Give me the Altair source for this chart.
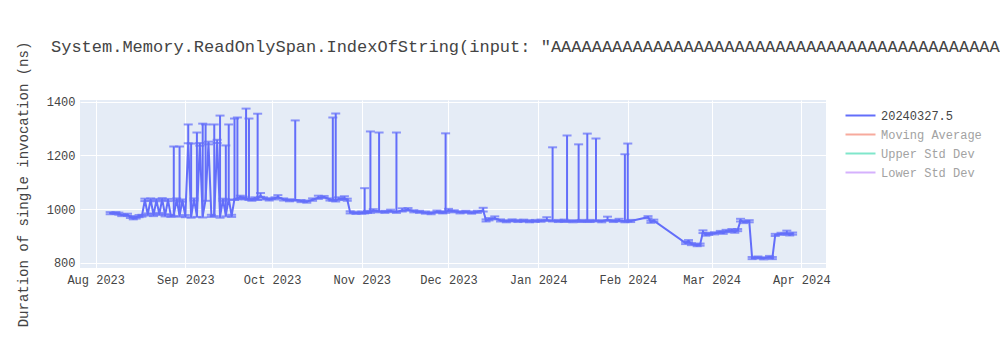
import altair as alt
import pandas as pd

# ---- data ----
dates = [
    "2023-08-06", "2023-08-08", "2023-08-09", "2023-08-10", "2023-08-12", "2023-08-13", "2023-08-14",
    "2023-08-15", "2023-08-16", "2023-08-17", "2023-08-18", "2023-08-19", "2023-08-20", "2023-08-21",
    "2023-08-22", "2023-08-23", "2023-08-24", "2023-08-25", "2023-08-26", "2023-08-27", "2023-08-28",
    "2023-08-29", "2023-08-30", "2023-08-31", "2023-09-01", "2023-09-02", "2023-09-03", "2023-09-04",
    "2023-09-05", "2023-09-06", "2023-09-07", "2023-09-08", "2023-09-09", "2023-09-10", "2023-09-11",
    "2023-09-12", "2023-09-13", "2023-09-14", "2023-09-15", "2023-09-16", "2023-09-17", "2023-09-18",
    "2023-09-19", "2023-09-20", "2023-09-21", "2023-09-22", "2023-09-23", "2023-09-24", "2023-09-25",
    "2023-09-26", "2023-09-27", "2023-09-28", "2023-09-30", "2023-10-02", "2023-10-03", "2023-10-05",
    "2023-10-07", "2023-10-09", "2023-10-11", "2023-10-13", "2023-10-15", "2023-10-17", "2023-10-19",
    "2023-10-21", "2023-10-22", "2023-10-23", "2023-10-24", "2023-10-26", "2023-10-27", "2023-10-28",
    "2023-10-30", "2023-11-01", "2023-11-02", "2023-11-03", "2023-11-04", "2023-11-05", "2023-11-07",
    "2023-11-09", "2023-11-11", "2023-11-13", "2023-11-15", "2023-11-17", "2023-11-19", "2023-11-21",
    "2023-11-23", "2023-11-25", "2023-11-27", "2023-11-29", "2023-11-30", "2023-12-01", "2023-12-03",
    "2023-12-05", "2023-12-07", "2023-12-09", "2023-12-11", "2023-12-13", "2023-12-14", "2023-12-15",
    "2023-12-17", "2023-12-19", "2023-12-21", "2023-12-23", "2023-12-25", "2023-12-27", "2023-12-29",
    "2023-12-31", "2024-01-02", "2024-01-04", "2024-01-06", "2024-01-08", "2024-01-10", "2024-01-11",
    "2024-01-13", "2024-01-15", "2024-01-16", "2024-01-18", "2024-01-19", "2024-01-21", "2024-01-23",
    "2024-01-25", "2024-01-27", "2024-01-29", "2024-01-31", "2024-02-01", "2024-02-02", "2024-02-08",
    "2024-02-09", "2024-02-10", "2024-02-21", "2024-02-22", "2024-02-23", "2024-02-25", "2024-02-26",
    "2024-02-27", "2024-02-28", "2024-02-29", "2024-03-02", "2024-03-04", "2024-03-05", "2024-03-06",
    "2024-03-08", "2024-03-09", "2024-03-10", "2024-03-11", "2024-03-12", "2024-03-14", "2024-03-15",
    "2024-03-17", "2024-03-19", "2024-03-21", "2024-03-22", "2024-03-23", "2024-03-25", "2024-03-27",
    "2024-03-28", "2024-03-29",
]
means = [
    985, 986, 983, 978, 979, 971, 966,
    969, 974, 976, 1034, 980, 1036, 978,
    1033, 982, 1037, 977, 1034, 975, 978,
    1036, 976, 1032, 974, 1250, 972, 1036,
    975, 1240, 973, 1035, 1245, 975, 978,
    1250, 972, 1035, 977, 1040, 975, 1038,
    1040, 1045, 1042, 1040, 1038, 1035, 1040,
    1038, 1050, 1040, 1036, 1040, 1045, 1036,
    1033, 1035, 1030, 1028, 1035, 1042, 1045,
    1036, 1035, 1032, 1038, 1040, 1035, 988,
    986, 987, 988, 990, 990, 995, 992,
    990, 993, 990, 995, 998, 992, 990,
    987, 985, 990, 988, 990, 995, 992,
    988, 990, 987, 990, 995, 958, 962,
    966, 958, 955, 958, 956, 957, 955,
    956, 957, 960, 958, 956, 957, 957,
    955, 958, 956, 957, 956, 958, 955,
    960, 956, 958, 955, 958, 956, 970,
    953, 957, 874, 881, 870, 866, 868,
    915, 905, 908, 910, 915, 912, 918,
    920, 916, 922, 958, 952, 955, 818,
    820, 817, 822, 818, 904, 908, 910,
    906, 909,
]
err_plus = [
    4, 3, 4, 3, 4, 3, 4,
    3, 4, 3, 5, 4, 4, 4,
    5, 4, 4, 4, 4, 4, 255,
    4, 257, 4, 4, 65, 272, 4,
    310, 6, 345, 280, 6, 4, 337,
    8, 376, 4, 260, 275, 4, 299,
    301, 5, 4, 334, 299, 4, 4,
    317, 10, 4, 5, 4, 7, 4,
    4, 295, 4, 4, 5, 8, 4,
    4, 306, 324, 6, 8, 4, 4,
    4, 4, 90, 4, 299, 5, 293,
    4, 5, 295, 8, 6, 4, 4,
    4, 4, 5, 4, 292, 6, 4,
    4, 4, 4, 4, 10, 4, 5,
    7, 4, 4, 4, 4, 4, 4,
    4, 4, 10, 272, 4, 4, 317,
    4, 283, 4, 324, 4, 305, 4,
    12, 4, 6, 249, 286, 4, 4,
    4, 4, 4, 4, 4, 4, 4,
    6, 4, 4, 4, 4, 4, 5,
    6, 4, 4, 6, 4, 4, 4,
    4, 4, 4, 4, 4, 4, 10,
    4, 4,
]
err_minus = [4] * len(dates)
err_minus[25] = 5

series_names = ["20240327.5", "Moving Average", "Upper Std Dev", "Lower Std Dev"]
series_colors = ["#636efa", "#f7aa9d", "#80e6cb", "#d5b1fd"]

title_text = ('System.Memory.ReadOnlySpan.IndexOfString(input: "'
              + "A" * 80 + '", value: "x", comparisonType: Ordinal)')

df = pd.DataFrame({
    "date": pd.to_datetime(dates),
    "mean": means,
    "hi": [m + e for m, e in zip(means, err_plus)],
    "lo": [m - e for m, e in zip(means, err_minus)],
    "series": series_names[0],
})

FONT = "Courier New, Liberation Mono, monospace"
LINE = "#636efa"

x_scale = alt.Scale(domain=["2023-07-26T13:40:00", "2024-04-09T13:10:00"])
y_scale = alt.Scale(domain=[781, 1406], nice=False, zero=False)

x_enc = alt.X("date:T", scale=x_scale, title=None,
              axis=alt.Axis(format="%b %Y", tickCount={"interval": "month", "step": 1},
                            labelOverlap=False, labelPadding=6))

base = alt.Chart(df)

line = base.mark_line(strokeWidth=2, clip=True).encode(
    x=x_enc,
    y=alt.Y("mean:Q", scale=y_scale,
            title="Duration of single invocation (ns)",
            axis=alt.Axis(values=[800, 1000, 1200, 1400], format="d",
                          labelPadding=5, titlePadding=16)),
    color=alt.Color("series:N",
                    scale=alt.Scale(domain=series_names, range=series_colors),
                    legend=alt.Legend(
                        orient="none", legendX=772, legendY=7, title=None,
                        symbolType="M-2,0H2", symbolStrokeWidth=2, symbolSize=225,
                        labelFont=FONT, labelFontSize=12, labelOffset=12,
                        labelColor=alt.expr("datum.label == '20240327.5' ? '#444444' : '#a2a2a2'"),
                        rowPadding=4)),
)

bars = base.mark_rule(color=LINE, strokeWidth=2, clip=True).encode(
    x="date:T", y="lo:Q", y2="hi:Q")
cap_hi = base.mark_tick(color=LINE, orient="horizontal", size=9, thickness=2, clip=True).encode(
    x="date:T", y="hi:Q")
cap_lo = base.mark_tick(color=LINE, orient="horizontal", size=9, thickness=2, clip=True).encode(
    x="date:T", y="lo:Q")

chart = alt.layer(bars, cap_hi, cap_lo, line).properties(
    width=746, height=168,
    background="white",
    title=alt.TitleParams(text=title_text, anchor="start", frame="group", dx=-29, offset=-15,
                          font=FONT, fontSize=17, fontWeight="normal", color="#444444"),
    autosize=alt.AutoSizeParams(type="none"),
    padding={"left": 80, "top": 100, "right": 174, "bottom": 82},
).configure_view(
    fill="#E5ECF6", stroke=None
).configure_axis(
    domain=False, ticks=False, grid=True, gridColor="white", gridWidth=1,
    labelFont=FONT, labelFontSize=12, labelColor="#444444",
    titleFont=FONT, titleFontSize=14, titleColor="#444444", titleFontWeight="normal",
)

chart.save("out.html", embed_options={"renderer": "svg", "actions": False})
